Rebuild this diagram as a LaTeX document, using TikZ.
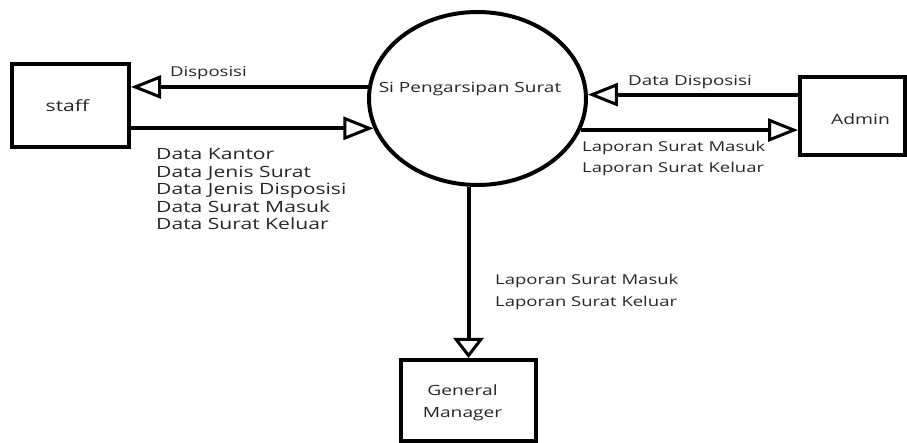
\documentclass[tikz,border=0pt]{standalone}
\usepackage{fontspec}
\setmainfont{Open Sans}[FakeStretch=1.36]
\usetikzlibrary{shapes.geometric,arrows.meta}
\begin{document}
\begin{tikzpicture}[x=1pt,y=-1pt,
  txt/.style={font=\fontsize{15.5}{18}\selectfont,color=black!85},
  smalltxt/.style={font=\fontsize{13.6}{22}\selectfont,color=black!85},
  box/.style={draw,line width=4pt,inner sep=0pt},
  hflow/.style={line width=4pt,-{Triangle[open,length=30pt,width=23pt,line width=3pt]}},
  vflow/.style={line width=4pt,-{Triangle[open,length=20pt,width=30pt,line width=3pt]}},
  lbl/.style={txt,inner sep=0pt,anchor=base west},
  slbl/.style={smalltxt,inner sep=0pt,anchor=base west},
]
\useasboundingbox (0,0) rectangle (907,443);
\node[box,minimum width=117pt,minimum height=83pt,label={[txt,xshift=-3pt]center:staff}] (staff) at (70.5,105.5) {};
\node[box,minimum width=105pt,minimum height=78pt,
  label={[smalltxt,font=\fontsize{14.2}{17}\selectfont,xshift=8pt,yshift=-3.5pt]center:Admin}] (admin) at (852.5,116) {};
\node[box,minimum width=135pt,minimum height=81pt,
  label={[smalltxt,font=\fontsize{14.1}{22}\selectfont,align=center,xshift=-6pt,yshift=-2.5pt]center:General\\Manager}] (gm) at (468.5,400.5) {};
\node[draw,ellipse,line width=4pt,minimum width=217pt,minimum height=173pt,inner sep=0pt,
  label={[font=\fontsize{14}{17}\selectfont,color=black!85,xshift=-7.5pt,yshift=9pt]center:Si Pengarsipan Surat}] (circ) at (477.5,98.5) {};
\draw[hflow] (circ.174.96) -- (circ.174.96 -| staff.east);
\draw[hflow] (staff.east |- circ.196.13) -- (circ.196.13);
\draw[hflow] (admin.west |- circ.2.91) -- (circ.2.91);
\draw[hflow] (circ.-17.31) -- (circ.-17.31 -| admin.west);
\draw[vflow] (gm.north |- circ.south) -- (gm.north);
\node[slbl] (l1) at (170,77) {Disposisi};
\node[lbl] (l2a) at (156,160) {Data Kantor};
\node[lbl] (l2b) at (156,177.5) {Data Jenis Surat};
\node[lbl] (l2c) at (156,195) {Data Jenis Disposisi};
\node[lbl] (l2d) at (156,212.5) {Data Surat Masuk};
\node[lbl] (l2e) at (156,230) {Data Surat Keluar};
\node[slbl,font=\fontsize{13.8}{17}\selectfont] (l3) at (628,86) {Data Disposisi};
\node[slbl] (l4a) at (582,152) {Laporan Surat Masuk};
\node[slbl] (l4b) at (582,173) {Laporan Surat Keluar};
\node[slbl] (l5a) at (495,285) {Laporan Surat Masuk};
\node[slbl] (l5b) at (495,307) {Laporan Surat Keluar};
\end{tikzpicture}
\end{document}
